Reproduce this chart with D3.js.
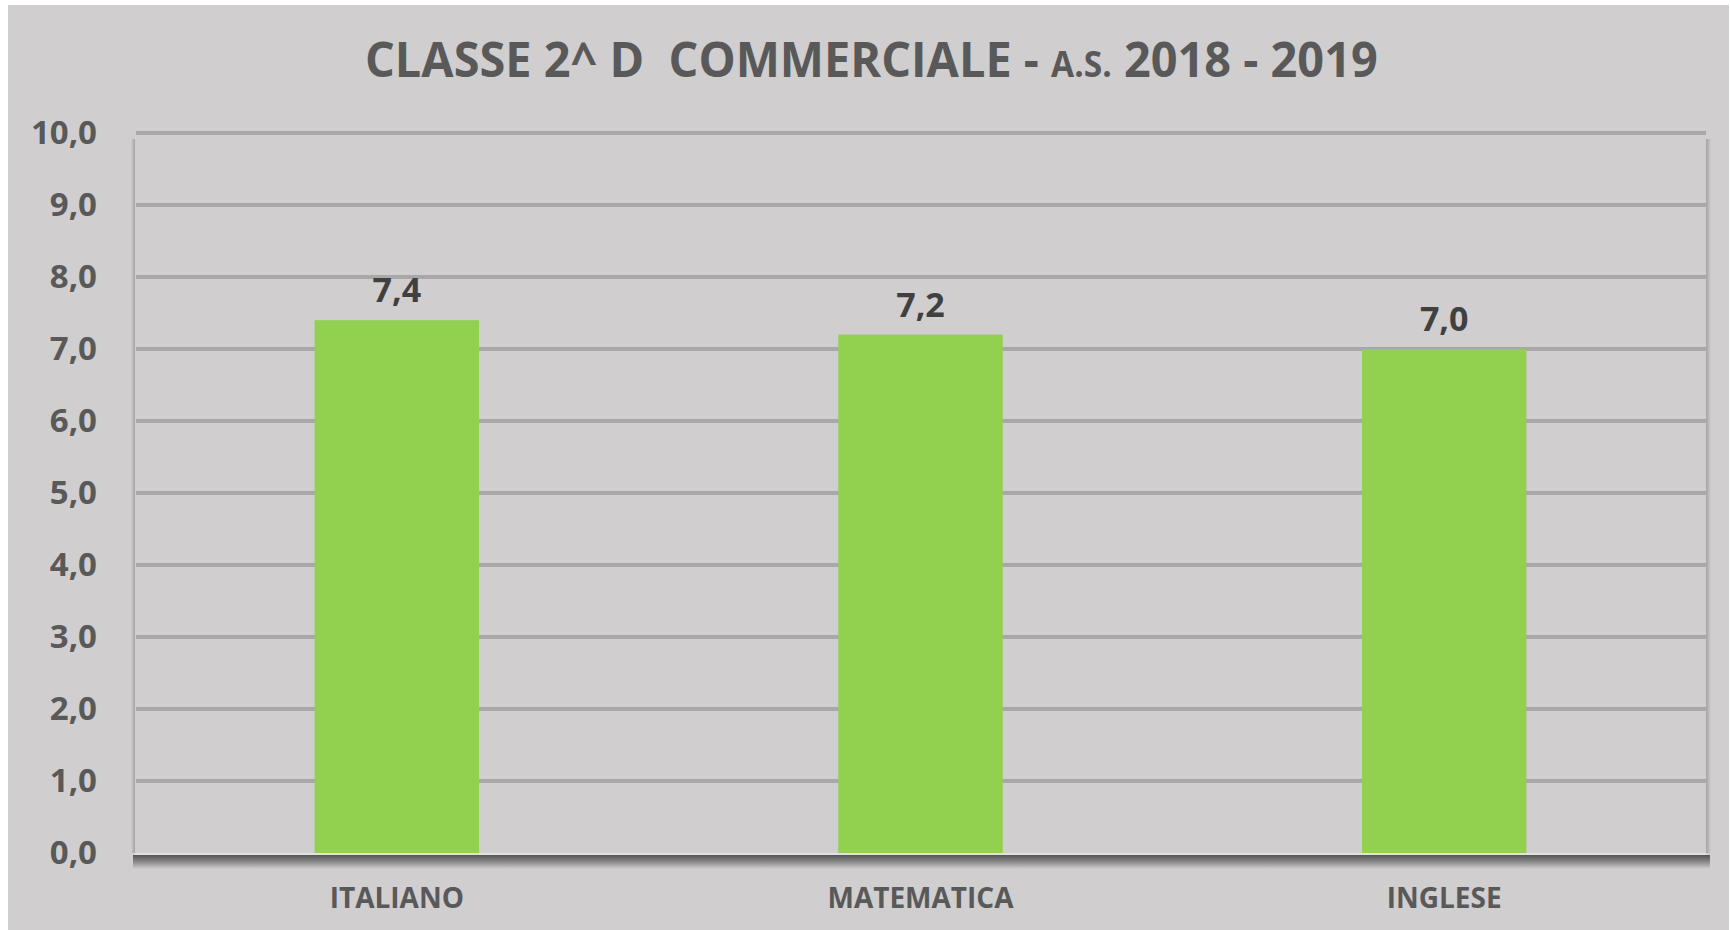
<!DOCTYPE html>
<html>
<head>
<meta charset="utf-8">
<script src="https://cdn.jsdelivr.net/npm/d3@7"></script>
<style>
  html, body { margin: 0; padding: 0; background: #ffffff; }
  svg { display: block; font-family: 'Open Sans', sans-serif; font-weight: 700; }
</style>
</head>
<body>
<div id="chart-area"></div>
<script>
// chart data
const categories = ['ITALIANO', 'MATEMATICA', 'INGLESE']
const values = [7.4, 7.2, 7.0]
const yTicks = [0, 1, 2, 3, 4, 5, 6, 7, 8, 9, 10]
const titleParts = [
  { text: 'CLASSE 2^ D  COMMERCIALE - ', small: false },
  { text: 'A.S.', small: true },
  { text: ' 2018 - 2019', small: false }
]

const width = 1730
const height = 930
const plot = { left: 135, right: 1706, top: 133, bottom: 853 }
const bg = '#d0cecf'

const itLocale = d3.formatLocale({ decimal: ',', thousands: '.', grouping: [3], currency: ['', '€'] })
const fmt = itLocale.format('.1f')

const svg = d3.select('#chart-area')
  .append('svg')
    .attr('width', width)
    .attr('height', height)

const defs = svg.append('defs')
const shadowBottom = defs.append('linearGradient')
  .attr('id', 'shadow-bottom').attr('x1', 0).attr('y1', 0).attr('x2', 0).attr('y2', 1)
shadowBottom.append('stop').attr('offset', '0%').attr('stop-color', '#555555')
shadowBottom.append('stop').attr('offset', '45%').attr('stop-color', '#858585')
shadowBottom.append('stop').attr('offset', '100%').attr('stop-color', bg)

const shadowSide = defs.append('linearGradient')
  .attr('id', 'shadow-side').attr('x1', 0).attr('y1', 0).attr('x2', 1).attr('y2', 0)
shadowSide.append('stop').attr('offset', '0%').attr('stop-color', '#a3a1a2')
shadowSide.append('stop').attr('offset', '100%').attr('stop-color', bg)

const shadowLeft = defs.append('linearGradient')
  .attr('id', 'shadow-left').attr('x1', 0).attr('y1', 0).attr('x2', 1).attr('y2', 0)
shadowLeft.append('stop').attr('offset', '0%').attr('stop-color', bg)
shadowLeft.append('stop').attr('offset', '100%').attr('stop-color', '#a3a1a2')

// chart background
svg.append('rect')
  .attr('x', 8)
  .attr('y', 5)
  .attr('width', width - 9)
  .attr('height', height - 5)
  .attr('fill', bg)

// title
const title = svg.append('text')
  .attr('fill', '#595959')
  .style('white-space', 'pre')
title.selectAll('tspan').data(titleParts).enter()
  .append('tspan')
    .attr('font-size', d => d.small ? 35 : 49)
    .text(d => d.text)
const tw = title.node().getBBox().width
title.attr('transform', `translate(365, 77) scale(${1013 / tw}, 1)`)

// scales
const scaleX = d3.scaleBand()
  .domain(categories)
  .range([plot.left, plot.right])
  .padding(0)

const scaleY = d3.scaleLinear()
  .domain([0, 10])
  .range([plot.bottom, plot.top])

const barWidth = scaleX.bandwidth() * 0.314

// plot area side shadows
svg.append('rect')
  .attr('x', plot.left - 4).attr('y', plot.top + 6)
  .attr('width', 4).attr('height', plot.bottom - plot.top - 6)
  .attr('fill', 'url(#shadow-left)')
svg.append('rect')
  .attr('x', plot.right).attr('y', plot.top + 6)
  .attr('width', 5).attr('height', plot.bottom - plot.top - 6)
  .attr('fill', 'url(#shadow-side)')

// gridlines
svg.append('g')
  .selectAll('line').data(yTicks.filter(d => d > 0)).enter()
  .append('line')
    .attr('x1', plot.left + 1)
    .attr('x2', plot.right)
    .attr('y1', d => scaleY(d))
    .attr('y2', d => scaleY(d))
    .attr('stroke', '#a9a7a8')
    .attr('stroke-width', 4)

// y axis labels
const yAxisCall = d3.axisLeft(scaleY)
  .tickValues(yTicks)
  .tickFormat(fmt)
  .tickSize(0)
  .tickPadding(38)
const yAxis = svg.append('g')
  .attr('transform', `translate(${plot.left}, 0)`)
  .call(yAxisCall)
yAxis.select('.domain').remove()
yAxis.selectAll('text')
  .attr('fill', '#595959')
  .attr('font-family', "'Open Sans', sans-serif")
  .attr('font-weight', 700)
  .attr('font-size', 33)

// bars
svg.append('g')
  .selectAll('rect').data(values).enter()
  .append('rect')
    .attr('x', (d, i) => scaleX(categories[i]) + (scaleX.bandwidth() - barWidth) / 2)
    .attr('y', d => scaleY(d))
    .attr('width', barWidth)
    .attr('height', d => scaleY(0) - scaleY(d))
    .attr('fill', '#92d050')

// bottom axis line and shadow
svg.append('rect')
  .attr('x', plot.left - 2).attr('y', plot.bottom + 2)
  .attr('width', plot.right - plot.left + 6).attr('height', 14)
  .attr('fill', 'url(#shadow-bottom)')
svg.append('line')
  .attr('x1', plot.left).attr('x2', plot.right)
  .attr('y1', plot.bottom + 1).attr('y2', plot.bottom + 1)
  .attr('stroke', '#e2e0e1')
  .attr('stroke-width', 2)

// data labels
svg.append('g')
  .selectAll('text').data(values).enter()
  .append('text')
    .attr('x', (d, i) => scaleX(categories[i]) + scaleX.bandwidth() / 2)
    .attr('y', d => scaleY(d) - 18)
    .attr('text-anchor', 'middle')
    .attr('font-size', 34)
    .attr('fill', '#404040')
    .text(d => fmt(d))

// category labels
svg.append('g')
  .selectAll('text').data(categories).enter()
  .append('text')
    .attr('x', d => scaleX(d) + scaleX.bandwidth() / 2)
    .attr('y', 908)
    .attr('text-anchor', 'middle')
    .attr('font-size', 28)
    .attr('fill', '#595959')
    .text(d => d)
</script>
</body>
</html>
